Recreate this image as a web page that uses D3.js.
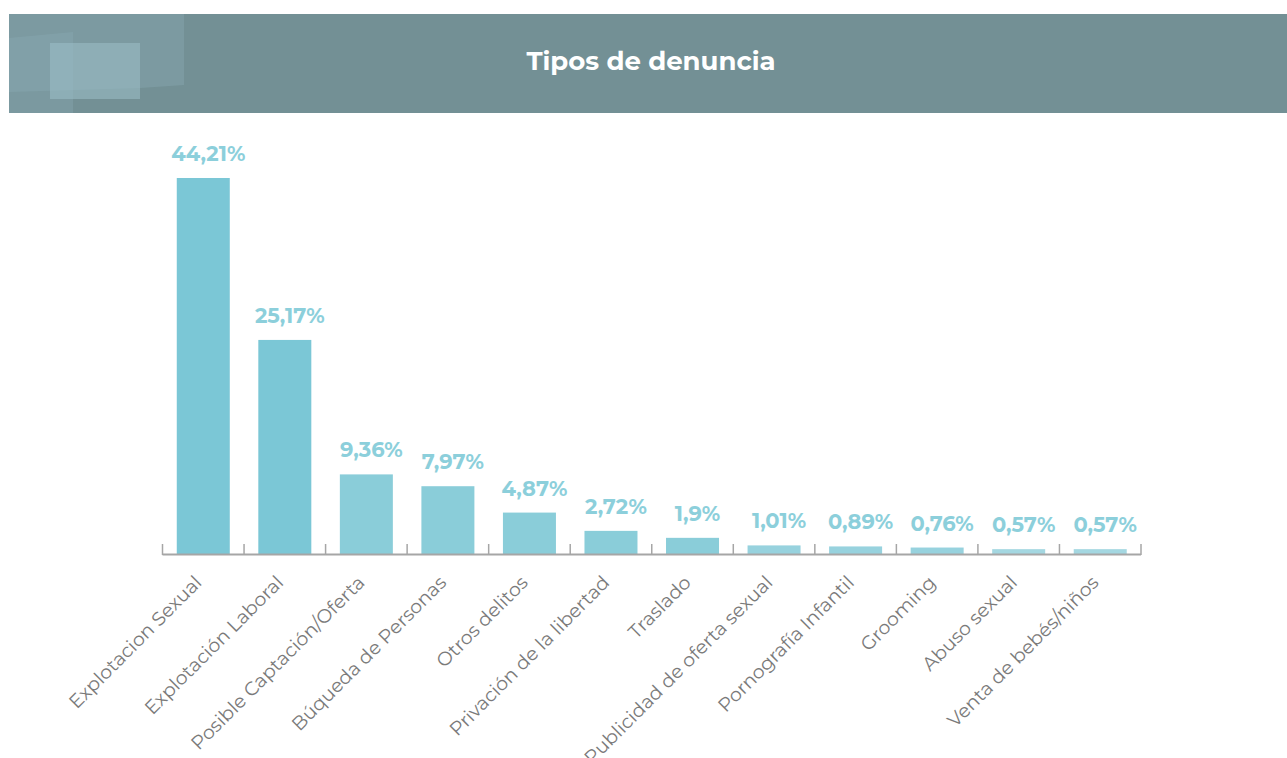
<!DOCTYPE html>
<html>
<head>
<meta charset="utf-8">
<script src="https://cdn.jsdelivr.net/npm/d3@7"></script>
<style>
  html, body { margin: 0; padding: 0; background: #fff; }
  svg { display: block; }
</style>
</head>
<body>
<svg id="chart" width="1287" height="758"></svg>
<script>
// Tipos de denuncia - bar chart

const categories = [
    'Explotacion Sexual', 'Explotación Laboral', 'Posible Captación/Oferta',
    'Búqueda de Personas', 'Otros delitos', 'Privación de la libertad',
    'Traslado', 'Publicidad de oferta sexual', 'Pornografía Infantil',
    'Grooming', 'Abuso sexual', 'Venta de bebés/niños'
];
const values = [44.21, 25.17, 9.36, 7.97, 4.87, 2.72, 1.9, 1.01, 0.89, 0.76, 0.57, 0.57];
const valueLabels = ['44,21%', '25,17%', '9,36%', '7,97%', '4,87%', '2,72%', '1,9%', '1,01%', '0,89%', '0,76%', '0,57%', '0,57%'];
const title = 'Tipos de denuncia';

const svg = d3.select('#chart');
const FONT = 'Montserrat, "Open Sans", sans-serif';

// --- Header band ---
const header = svg.append('g');
header.append('rect')
    .attr('x', 9).attr('y', 14).attr('width', 1278).attr('height', 99)
    .attr('fill', '#739095');
// decorative translucent panels
header.append('path')
    .attr('d', 'M9,14 L184,14 L184,85 L140,88 L9,92 Z')
    .attr('fill', '#8db0b8').attr('opacity', 0.35);
header.append('path')
    .attr('d', 'M9,38 L73,32 L73,113 L9,113 Z')
    .attr('fill', '#8db0b8').attr('opacity', 0.3);
header.append('rect')
    .attr('x', 50).attr('y', 43).attr('width', 90).attr('height', 56)
    .attr('fill', '#9cc0c8').attr('opacity', 0.55);
header.append('text')
    .attr('x', 651).attr('y', 70)
    .attr('text-anchor', 'middle')
    .style('font-family', FONT)
    .style('font-weight', 'bold')
    .style('font-size', '26px')
    .style('fill', '#ffffff')
    .text(title);

// --- Scales ---
const BASE = 554;
const x = d3.scaleBand()
    .domain(categories)
    .range([162.5, 1141])
    .paddingInner(0.35)
    .paddingOuter(0.175);

const y = d3.scaleLinear()
    .domain([0, 50])
    .range([BASE, BASE - 50 * 8.505]);

const color = d3.scaleThreshold()
    .domain([0.6, 1.5, 20])
    .range(['#a4d7e1', '#97d2de', '#8acdd9', '#7bc7d6']);

const data = categories.map((c, i) => ({ cat: c, value: values[i], label: valueLabels[i] }));

const g = svg.append('g');

// Bars
g.selectAll('rect.bar')
    .data(data)
    .join('rect')
    .attr('class', 'bar')
    .attr('x', d => x(d.cat))
    .attr('y', d => y(d.value))
    .attr('width', x.bandwidth())
    .attr('height', d => BASE - y(d.value))
    .attr('fill', d => color(d.value));

// Value labels (sit a little right of bar centre, as in the original)
g.selectAll('text.value')
    .data(data)
    .join('text')
    .attr('class', 'value')
    .attr('x', d => x(d.cat) + x.bandwidth() / 2 + 5)
    .attr('y', d => y(d.value) - 17)
    .attr('text-anchor', 'middle')
    .style('font-family', FONT)
    .style('font-weight', 'bold')
    .style('font-size', '21px')
    .style('fill', '#8ccfdb')
    .text(d => d.label);

// Axis line with upward ticks at band boundaries
const step = x.step();
const boundaries = d3.range(categories.length + 1).map(i => 162.5 + i * step);
g.append('line')
    .attr('x1', 162.5).attr('x2', 1141)
    .attr('y1', BASE + 0.5).attr('y2', BASE + 0.5)
    .attr('stroke', '#a6a6a6').attr('stroke-width', 2);
g.selectAll('line.tick')
    .data(boundaries)
    .join('line')
    .attr('class', 'tick')
    .attr('x1', d => d).attr('x2', d => d)
    .attr('y1', BASE - 10).attr('y2', BASE + 1)
    .attr('stroke', '#a6a6a6').attr('stroke-width', 1.5);

// Category labels
g.selectAll('text.cat')
    .data(data)
    .join('text')
    .attr('class', 'cat')
    .attr('text-anchor', 'end')
    .attr('transform', d => `translate(${x(d.cat) + x.bandwidth() / 2 - 5},${BASE + 25}) rotate(-45)`)
    .attr('dy', '0.35em')
    .style('font-family', FONT)
    .style('font-size', '19px')
    .style('fill', '#7a7a7a')
    .text(d => d.cat);
</script>
</body>
</html>
